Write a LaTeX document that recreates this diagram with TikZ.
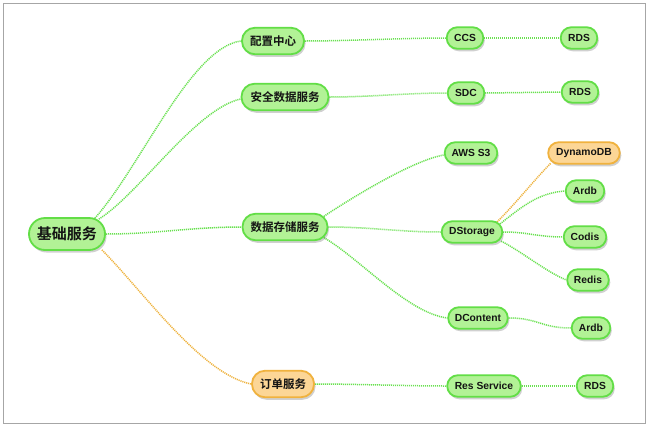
\documentclass[tikz,border=0pt]{standalone}
\usepackage{fontspec}
\setmainfont{Liberation Sans}
\newfontfamily\cjk{Noto Sans CJK SC}[BoldFont={Noto Sans CJK SC Bold}]
\usetikzlibrary{shadows,calc}
\pgfdeclarelayer{background}
\pgfsetlayers{background,main}
\definecolor{gfill}{RGB}{178,242,150}
\definecolor{gline}{RGB}{98,222,70}
\definecolor{ofill}{RGB}{252,214,150}
\definecolor{oline}{RGB}{240,178,62}
\definecolor{glink}{RGB}{105,225,80}
\definecolor{olink}{RGB}{238,178,60}
\definecolor{txt}{RGB}{20,20,20}
\begin{document}
\begin{tikzpicture}[x=1pt,y=-1pt,
  base/.style={rectangle, line width=1.8pt, text=txt, inner sep=0pt,
    drop shadow={shadow xshift=1.5pt,shadow yshift=-2.5pt,opacity=0.3,fill=black!60}},
  gbox/.style={base, draw=gline, fill=gfill},
  obox/.style={base, draw=oline, fill=ofill},
  en/.style={font=\bfseries\fontsize{10.3}{12}\selectfont, minimum height=21.5pt, rounded corners=10.5pt},
  zh/.style={font=\cjk\bfseries\fontsize{11.5}{13}\selectfont, minimum height=26.5pt, rounded corners=13pt},
  rootst/.style={font=\cjk\bfseries\fontsize{15}{17}\selectfont, minimum height=32pt, rounded corners=16pt},
  glk/.style={draw=glink, line width=1.5pt, dash pattern=on 1.1pt off 0.9pt},
  olk/.style={glk, draw=olink}]
\useasboundingbox (0,0) rectangle (649,429);
\draw[gray!70, line width=1pt] (3,3) rectangle (645,423);

% nodes
\node[gbox,rootst,minimum width=76pt] (root) at (67,234) {基础服务};
\node[gbox,zh,minimum width=62pt] (cfg) at (273,41) {配置中心};
\node[gbox,zh,minimum width=87pt] (sec) at (285,97) {安全数据服务};
\node[gbox,zh,minimum width=85pt] (ds) at (285,227) {数据存储服务};
\node[obox,zh,minimum width=62pt] (ord) at (283,384) {订单服务};
\node[gbox,en,minimum width=36.5pt] (ccs) at (465,38) {CCS};
\node[gbox,en,minimum width=36.5pt] (rdsa) at (579,38) {RDS};
\node[gbox,en,minimum width=36.5pt] (sdc) at (466,93) {SDC};
\node[gbox,en,minimum width=36.5pt] (rdsb) at (580,92) {RDS};
\node[gbox,en,minimum width=52.5pt] (aws) at (471,153) {AWS S3};
\node[obox,en,minimum width=71.5pt] (dyn) at (584,153) {DynamoDB};
\node[gbox,en,minimum width=38.5pt] (ardba) at (585,191) {Ardb};
\node[gbox,en,minimum width=60.5pt] (dst) at (472,232) {DStorage};
\node[gbox,en,minimum width=42.5pt] (codis) at (585,237) {Codis};
\node[gbox,en,minimum width=41.5pt] (redis) at (588,280) {Redis};
\node[gbox,en,minimum width=59.5pt] (dcon) at (478,318) {DContent};
\node[gbox,en,minimum width=38.5pt] (ardbb) at (591,328) {Ardb};
\node[gbox,en,minimum width=73.5pt] (res) at (484,386) {Res Service};
\node[gbox,en,minimum width=36.5pt] (rdsc) at (595,386) {RDS};

% connectors
\begin{pgfonlayer}{background}
\fill[white] (0,0) rectangle (649,429);
\draw[glk] ([shift={(-11,1)}]root.north east) .. controls +(45,-50) and +(-50,6) .. (cfg.west);
\draw[glk] ([shift={(-7,2)}]root.north east) .. controls +(40,-25) and +(-45,10) .. ([shift={(0,2)}]sec.west);
\draw[glk] (root.east) .. controls +(50,0) and +(-50,0) .. (ds.west);
\draw[olk] ([shift={(-4,-1)}]root.south east) .. controls +(40,40) and +(-50,-10) .. (ord.west);
\draw[glk] (cfg.east) .. controls +(40,0) and +(-40,0) .. (ccs.west);
\draw[glk] (ccs.east) -- (rdsa.west);
\draw[glk] (sec.east) .. controls +(40,0) and +(-40,0) .. (sdc.west);
\draw[glk] (sdc.east) -- (rdsb.west);
\draw[glk] ([shift={(-4.5,3.5)}]ds.north east) .. controls +(30,-20) and +(-30,5) .. ([shift={(0,2)}]aws.west);
\draw[glk] (ds.east) .. controls +(40,0) and +(-40,0) .. (dst.west);
\draw[glk] ([shift={(-4.5,-3.5)}]ds.south east) .. controls +(35,20) and +(-40,-5) .. (dcon.west);
\draw[olk] ([shift={(-6,1.5)}]dst.north east) .. controls +(20,-20) and +(-15,15) .. ([shift={(3.5,-1.5)}]dyn.south west);
\draw[glk] ([shift={(-3,3.5)}]dst.north east) .. controls +(25,-20) and +(-25,2) .. (ardba.west);
\draw[glk] (dst.east) .. controls +(25,0) and +(-25,0) .. (codis.west);
\draw[glk] ([shift={(-2,-2.5)}]dst.south east) .. controls +(20,10) and +(-20,-8) .. (redis.west);
\draw[glk] (dcon.east) .. controls +(30,0) and +(-30,0) .. (ardbb.west);
\draw[glk] (ord.east) .. controls +(40,0) and +(-40,0) .. (res.west);
\draw[glk] (res.east) -- (rdsc.west);
\end{pgfonlayer}
\end{tikzpicture}
\end{document}
